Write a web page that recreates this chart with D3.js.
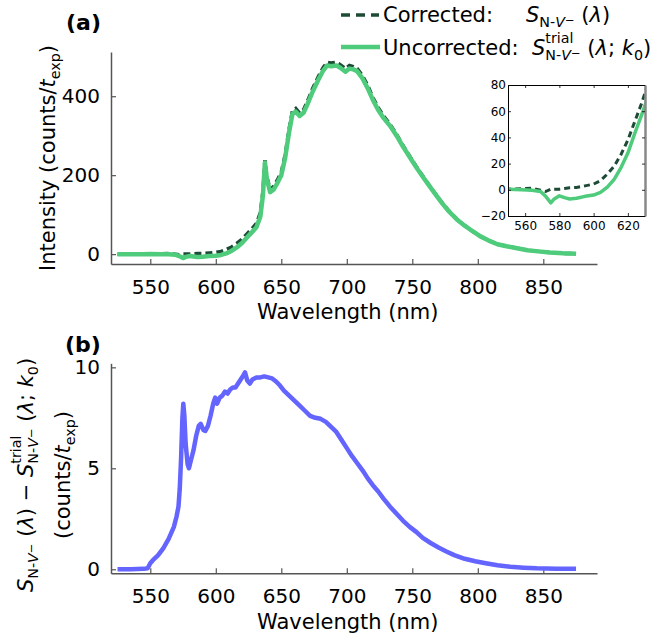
<!DOCTYPE html>
<html>
<head>
<meta charset="utf-8">
<script src="https://cdn.jsdelivr.net/npm/d3@7"></script>
<style>
body { margin: 0; background: #fff; }
text { font-family: "DejaVu Sans", sans-serif; fill: #000; white-space: pre; }
</style>
</head>
<body>
<svg id="mainsvg" width="657" height="641"></svg>
<script>
// ---- data ----
// panel (a): wavelength (nm) and intensity (counts / t_exp)
const wlA = [525, 535, 545, 550, 558, 564, 569, 572, 575, 577, 580, 583, 586, 590, 595, 600, 604, 608, 612, 616,
  620, 624, 628, 631, 634, 636, 637.5, 639, 641.5, 644, 647, 650, 653, 656, 658.5, 661, 664, 667, 670, 674,
  678, 682, 685, 688, 692, 695, 699, 702, 705, 708, 712, 716, 720, 724, 728, 733, 738, 743, 748, 753,
  758, 763, 768, 773, 778, 784, 790, 796, 802, 808, 815, 822, 830, 838, 846, 855, 865, 875];
const uncorrected = [0, 0, 0, 0.5, 0, -0.3, -1.3, -5, -10, -7, -4.6, -6, -7, -6.5, -5, -4, -2, 2, 8, 17,
  28, 43, 57, 68, 95, 150, 232, 190, 157, 163, 180, 200, 245, 310, 355, 361, 350, 358, 380, 412,
  440, 465, 478, 476, 478, 472, 462, 470, 468, 463, 445, 420, 390, 365, 345, 325, 300, 272, 246, 220,
  196, 173, 150, 128, 108, 88, 72, 58, 45, 35, 25, 20, 15, 10, 7, 4, 2, 1];
const corrected = [0, 0, 0, 0.5, 0.8, 1.3, -0.3, -1.3, 0.5, 0.5, 0.5, 1, 1.5, 1.8, 3, 4.4, 7, 12, 18, 27,
  38, 52, 66, 78, 105, 160, 238, 196, 164, 171, 188, 208, 253, 318, 363, 369, 357, 366, 388, 420,
  448, 473, 486, 484, 486, 480, 470, 478, 475, 470, 452, 427, 396, 371, 350, 329, 303, 275, 248, 222,
  198, 174, 151, 129, 109, 89, 72, 58, 45, 35, 25, 20, 15, 10, 7, 4, 2, 1];

// panel (b): difference S - S_trial
const wlB = [525, 535, 545, 548, 550, 552, 556, 560, 564, 568, 570, 571.5, 572.5, 573.5, 574.5, 575.2, 576, 577, 578.5, 579.5,
  581, 583, 585, 587, 588.5, 590.5, 592, 594, 596, 598, 599.5, 601, 603, 605, 607, 609, 611, 613, 615, 617,
  619, 621, 622.3, 624, 626, 628, 631, 634, 637, 640, 643, 646, 649, 652, 656, 660, 664, 668, 672, 676,
  680, 684, 688, 692, 696, 700, 704, 708, 712, 716, 720, 724, 728, 733, 738, 743, 748, 753, 758, 764,
  770, 776, 782, 790, 798, 806, 815, 825, 835, 845, 860, 875];
const diffB = [0, 0, 0.02, 0.05, 0.3, 0.45, 0.7, 1.05, 1.5, 2.1, 2.6, 3.1, 4.0, 5.5, 7.5, 8.2, 7.6, 6.2, 5.2, 5.0,
  5.4, 5.9, 6.6, 7.1, 7.2, 6.9, 6.85, 7.1, 7.6, 8.2, 8.5, 8.2, 8.5, 8.6, 8.8, 8.7, 8.9, 9.0, 9.0, 9.2,
  9.4, 9.6, 9.75, 9.35, 9.2, 9.4, 9.5, 9.5, 9.55, 9.5, 9.45, 9.3, 9.1, 8.85, 8.6, 8.35, 8.1, 7.85, 7.6, 7.5,
  7.45, 7.3, 7.05, 6.8, 6.4, 6.0, 5.6, 5.25, 4.9, 4.5, 4.15, 3.85, 3.5, 3.1, 2.75, 2.4, 2.1, 1.85, 1.55, 1.3,
  1.08, 0.88, 0.7, 0.52, 0.4, 0.3, 0.2, 0.12, 0.08, 0.05, 0.03, 0.02];

const xTicks = [550, 600, 650, 700, 750, 800, 850];
const yTicksA = [0, 200, 400];
const yTicksB = [0, 5, 10];
const insetXTicks = [560, 580, 600, 620];
const insetYTicks = [-20, 0, 20, 40, 60, 80];

const cGreen = '#4fcb7c', cDark = '#1d4b35', cBlue = '#6464ff', cAxis = '#555';

let svg = d3.select('#mainsvg');

// places pieces of text one after another; returns total width
// a piece with stack:true is drawn without advancing (superscript over a subscript);
// the next piece with clear:true starts after whichever of the two is wider
function rich(g, x, y, parts, size) {
    let cx = x, supEnd = null;
    parts.forEach(p => {
        if (p.clear && supEnd !== null) { cx = Math.max(cx, supEnd); supEnd = null; }
        const fs = size * (p.sc || 1);
        const t = g.append('text')
            .attr('x', cx).attr('y', y + (p.dy || 0) * size)
            .attr('font-size', fs)
            .attr('font-style', p.it ? 'italic' : 'normal')
            .text(p.t);
        const w = t.node().getComputedTextLength();
        if (p.stack) supEnd = cx + w;
        else cx += w;
    });
    if (supEnd !== null) cx = Math.max(cx, supEnd);
    return cx - x;
}
const subNV = [
    {t: 'N-', sc: 0.68, dy: 0.24},
    {t: 'V', sc: 0.68, dy: 0.24, it: true},
    {t: '−', sc: 0.55, dy: 0.08}
];
const supTrial = {t: 'trial', sc: 0.68, dy: -0.56, stack: true};

// ---- panel (a) ----
const xA = d3.scaleLinear().domain([520, 891]).range([111, 597]);
const yA = d3.scaleLinear().domain([-25, 512]).range([264, 52]);

function styleAxis(g) {
    g.selectAll('.domain').attr('stroke', cAxis).attr('stroke-width', 1.5);
    g.selectAll('.tick line').attr('stroke', cAxis).attr('stroke-width', 1.2);
    g.selectAll('.tick text').attr('font-size', 20).attr('font-family', '"DejaVu Sans", sans-serif');
}

svg.append('g').attr('transform', 'translate(0,264)')
    .call(d3.axisBottom(xA).tickValues(xTicks).tickSize(-5).tickSizeOuter(0).tickPadding(16))
    .call(styleAxis);
svg.append('g').attr('transform', 'translate(111,0)')
    .call(d3.axisLeft(yA).tickValues(yTicksA).tickSize(-5).tickSizeOuter(0).tickPadding(11))
    .call(styleAxis);

const lineA = d3.line().x(d => xA(d[0])).y(d => yA(d[1]));
svg.append('path').datum(wlA.map((w, i) => [w, corrected[i]]))
    .attr('d', lineA).attr('fill', 'none').attr('stroke', cDark)
    .attr('stroke-width', 3.5).attr('stroke-dasharray', '7,4');
svg.append('path').datum(wlA.map((w, i) => [w, uncorrected[i]]))
    .attr('d', lineA).attr('fill', 'none').attr('stroke', cGreen)
    .attr('stroke-width', 4.5).attr('stroke-linejoin', 'round');

svg.append('text').attr('x', 257).attr('y', 319).attr('font-size', 21).text('Wavelength (nm)');

// y label (a)
{
    const g = svg.append('g');
    const w = rich(g, 0, 0, [
        {t: 'Intensity (counts/'},
        {t: 't', it: true},
        {t: 'exp', sc: 0.68, dy: 0.22},
        {t: ')'}
    ], 21);
    g.attr('transform', `translate(55,158) rotate(-90) translate(${-w / 2},0)`);
}

svg.append('text').attr('x', 66).attr('y', 30).attr('font-size', 22).attr('font-weight', 'bold').text('(a)');

// legend
svg.append('line').attr('x1', 341).attr('x2', 379).attr('y1', 15).attr('y2', 15)
    .attr('stroke', cDark).attr('stroke-width', 3.5).attr('stroke-dasharray', '9,6');
svg.append('text').attr('x', 383).attr('y', 22).attr('font-size', 21).text('Corrected:');
rich(svg.append('g'), 526, 22, [{t: 'S', it: true}, ...subNV, {t: ' ('}, {t: 'λ', it: true}, {t: ')'}], 21);

svg.append('line').attr('x1', 341).attr('x2', 380).attr('y1', 47).attr('y2', 47)
    .attr('stroke', cGreen).attr('stroke-width', 4.5);
svg.append('text').attr('x', 383).attr('y', 55).attr('font-size', 21).text('Uncorrected:');
rich(svg.append('g'), 532, 55, [{t: 'S', it: true}, supTrial, ...subNV, {t: ' (', clear: true}, {t: 'λ', it: true},
    {t: '; '}, {t: 'k', it: true}, {t: '0', sc: 0.68, dy: 0.22}, {t: ')'}], 21);

// ---- inset ----
const xI = d3.scaleLinear().domain([550, 630]).range([508, 645]);
const yI = d3.scaleLinear().domain([-20, 80]).range([216, 85]);
const inset = svg.append('g');
inset.append('rect').attr('x', 508).attr('y', 85).attr('width', 137).attr('height', 131).attr('fill', '#fff');
svg.append('clipPath').attr('id', 'insetClip').append('rect')
    .attr('x', 508).attr('y', 85).attr('width', 137).attr('height', 131);

const lineI = d3.line().x(d => xI(d[0])).y(d => yI(d[1]));
const insetLines = inset.append('g').attr('clip-path', 'url(#insetClip)');
insetLines.append('path').datum(wlA.map((w, i) => [w, corrected[i]]))
    .attr('d', lineI).attr('fill', 'none').attr('stroke', cDark)
    .attr('stroke-width', 3).attr('stroke-dasharray', '6,4');
insetLines.append('path').datum(wlA.map((w, i) => [w, uncorrected[i]]))
    .attr('d', lineI).attr('fill', 'none').attr('stroke', cGreen)
    .attr('stroke-width', 3.5).attr('stroke-linejoin', 'round');

function styleInset(g) {
    g.selectAll('.domain').attr('stroke', '#000').attr('stroke-width', 1);
    g.selectAll('.tick line').attr('stroke', '#000').attr('stroke-width', 0.8);
    g.selectAll('.tick text').attr('font-size', 12).attr('font-family', '"DejaVu Sans", sans-serif');
}
inset.append('g').attr('transform', 'translate(0,216)')
    .call(d3.axisBottom(xI).tickValues(insetXTicks).tickSize(-3).tickSizeOuter(0).tickPadding(5))
    .call(styleInset);
inset.append('g').attr('transform', 'translate(0,85)')
    .call(d3.axisTop(xI).tickValues(insetXTicks).tickSize(-3).tickSizeOuter(0).tickFormat(''))
    .call(styleInset);
inset.append('g').attr('transform', 'translate(508,0)')
    .call(d3.axisLeft(yI).tickValues(insetYTicks).tickSize(-3).tickSizeOuter(0).tickPadding(2)
        .tickFormat(d => d < 0 ? '−' + Math.abs(d) : d))
    .call(styleInset);
inset.append('g').attr('transform', 'translate(645,0)')
    .call(d3.axisRight(yI).tickValues(insetYTicks).tickSize(-3).tickSizeOuter(0).tickFormat(''))
    .call(g => {
        styleInset(g);
        g.selectAll('.domain').attr('stroke', '#888').attr('stroke-width', 2.5);
    });

// ---- panel (b) ----
const xB = d3.scaleLinear().domain([520, 891]).range([111, 597]);
const yB = d3.scaleLinear().domain([-0.2, 10.2]).range([573.3, 363.3]);

svg.append('g').attr('transform', 'translate(0,573.3)')
    .call(d3.axisBottom(xB).tickValues(xTicks).tickSize(-5).tickSizeOuter(0).tickPadding(16))
    .call(styleAxis);
svg.append('g').attr('transform', 'translate(111,0)')
    .call(d3.axisLeft(yB).tickValues(yTicksB).tickSize(-5).tickSizeOuter(0).tickPadding(11))
    .call(styleAxis);

const lineB = d3.line().x(d => xB(d[0])).y(d => yB(d[1]));
svg.append('path').datum(wlB.map((w, i) => [w, diffB[i]]))
    .attr('d', lineB).attr('fill', 'none').attr('stroke', cBlue)
    .attr('stroke-width', 4.5).attr('stroke-linejoin', 'round');

svg.append('text').attr('x', 257).attr('y', 629).attr('font-size', 21).text('Wavelength (nm)');
svg.append('text').attr('x', 65).attr('y', 352).attr('font-size', 22).attr('font-weight', 'bold').text('(b)');

// y label (b), two lines
{
    const g1 = svg.append('g');
    const w1 = rich(g1, 0, 0, [{t: 'S', it: true}, ...subNV, {t: ' ('}, {t: 'λ', it: true}, {t: ') − '},
        {t: 'S', it: true}, supTrial, ...subNV, {t: ' (', clear: true}, {t: 'λ', it: true}, {t: '; '},
        {t: 'k', it: true}, {t: '0', sc: 0.68, dy: 0.22}, {t: ')'}], 21);
    g1.attr('transform', `translate(33,475) rotate(-90) translate(${-w1 / 2},0)`);
    const g2 = svg.append('g');
    const w2 = rich(g2, 0, 0, [{t: '(counts/'}, {t: 't', it: true}, {t: 'exp', sc: 0.68, dy: 0.22}, {t: ')'}], 21);
    g2.attr('transform', `translate(70,475) rotate(-90) translate(${-w2 / 2},0)`);
}
</script>
</body>
</html>
